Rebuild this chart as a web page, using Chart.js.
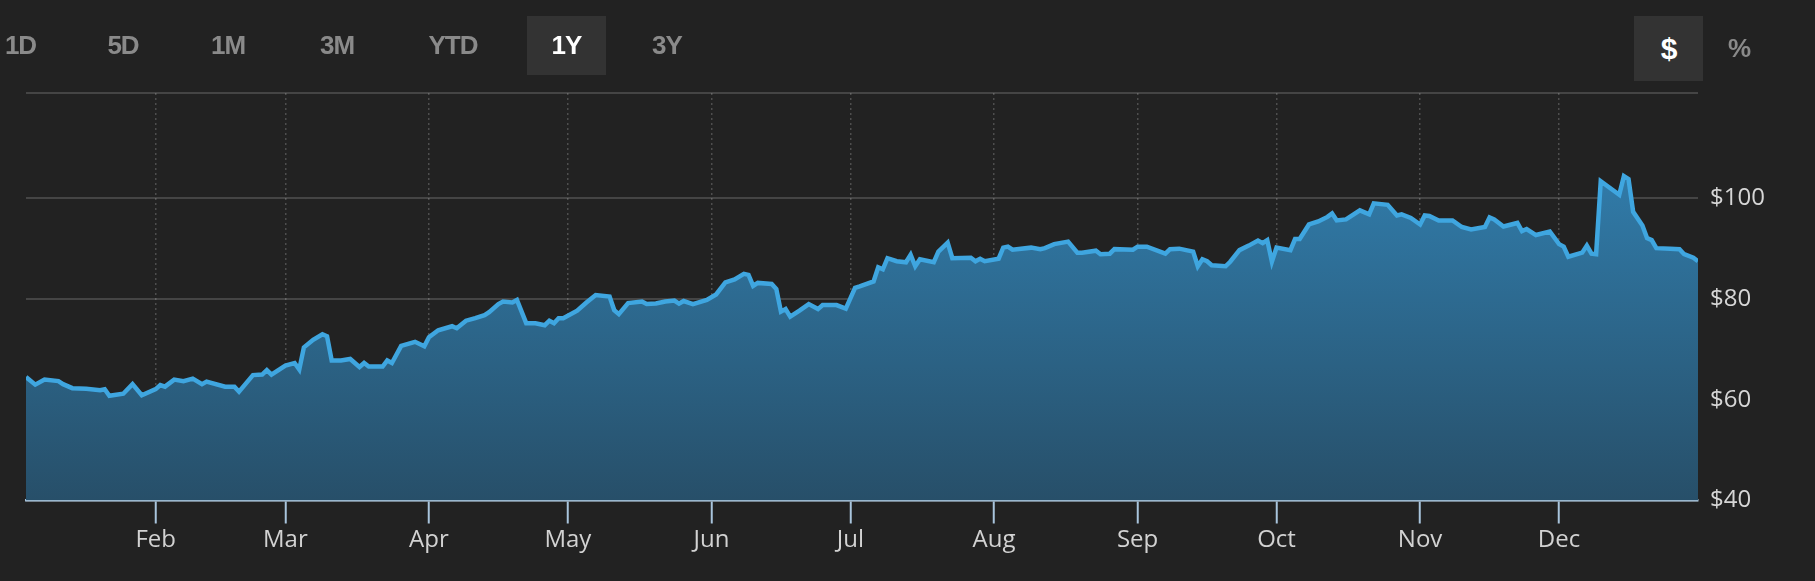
<!DOCTYPE html>
<html>
<head>
<meta charset="utf-8">
<script src="https://cdn.jsdelivr.net/npm/chart.js@4"></script>
<style>
  body { margin: 0; background: #222; overflow: hidden; }
  #wrap { position: relative; width: 1815px; height: 581px; }
  canvas { position: absolute; left: 0; top: 0; }
  .btn {
    position: absolute; top: 16px; height: 59px;
    text-align: center; font: bold 26px/59px "Liberation Sans", Arial, sans-serif;
    color: #8a8a8a; letter-spacing: -1px;
  }
  .btn.on { background: #333; color: #fff; }
  .btn.tall { height: 65px; line-height: 65px; }
</style>
</head>
<body>
<div id="wrap">
  <canvas id="priceChart" width="1815" height="581"></canvas>
  <div class="btn" style="left:0;width:41px">1D</div>
  <div class="btn" style="left:93px;width:60px">5D</div>
  <div class="btn" style="left:198px;width:60px">1M</div>
  <div class="btn" style="left:307px;width:60px">3M</div>
  <div class="btn" style="left:413px;width:80px">YTD</div>
  <div class="btn on" style="left:527px;width:79px">1Y</div>
  <div class="btn" style="left:637px;width:60px">3Y</div>
  <div class="btn on tall" style="left:1634px;width:69px;font-size:30px">$</div>
  <div class="btn tall" style="left:1714px;width:50px">%</div>
</div>
<script>
// day of year (Jan 1 = 0) and closing price
const days = [
  3, 5, 7, 10, 11, 13, 16, 19, 20, 21, 24, 26, 28, 31, 32, 33, 35, 37, 39, 41,
  42, 46, 48, 49, 52, 54, 55, 56, 59, 61, 62, 63, 65, 67, 68, 69, 71, 73, 75, 76,
  77, 80, 81, 82, 84, 87, 89, 90, 92, 95, 96, 98, 100, 102, 103, 105, 106, 108, 109, 111,
  113, 115, 116, 117, 118, 119, 122, 124, 126, 129, 130, 131, 133, 136, 137, 139, 141, 143, 144, 145,
  147, 150, 152, 154, 156, 158, 159, 160, 161, 164, 165, 166, 167, 168, 170, 172, 174, 175, 178, 180,
  182, 183, 186, 187, 188, 189, 191, 193, 194, 195, 196, 199, 200, 202, 203, 207, 208, 209, 210, 213,
  214, 215, 216, 220, 222, 223, 225, 228, 230, 231, 234, 235, 237, 238, 242, 243, 245, 249, 250, 252,
  255, 256, 257, 258, 259, 262, 263, 265, 267, 269, 270, 271, 272, 273, 276, 277, 278, 280, 282, 284,
  285, 286, 288, 291, 293, 294, 297, 299, 300, 302, 304, 305, 306, 308, 311, 313, 315, 318, 319, 320,
  322, 325, 326, 327, 329, 332, 334, 335, 336, 339, 340, 341, 342, 343, 347, 348, 349, 350, 352, 353,
  354, 355, 358, 360, 361, 363, 364
];
const prices = [
  64.5, 63.0, 64.0, 63.7, 63.1, 62.3, 62.2, 61.9, 62.1, 60.8, 61.2, 63.1, 60.9, 62.1, 62.9, 62.6, 64.0, 63.7, 64.2, 63.1,
  63.6, 62.6, 62.6, 61.6, 64.9, 65.0, 65.9, 65.0, 66.8, 67.3, 66.0, 70.4, 71.9, 73.0, 72.6, 67.8, 67.8, 68.1, 66.5, 67.3,
  66.6, 66.6, 67.8, 67.3, 70.7, 71.5, 70.6, 72.4, 73.8, 74.6, 74.2, 75.7, 76.2, 76.8, 77.4, 79.0, 79.5, 79.3, 79.8, 75.2,
  75.2, 74.8, 75.7, 75.2, 76.2, 76.2, 77.7, 79.3, 80.8, 80.5, 77.8, 77.0, 79.2, 79.5, 79.0, 79.1, 79.5, 79.7, 79.1, 79.6,
  79.0, 79.8, 80.9, 83.3, 83.9, 85.0, 84.8, 82.6, 83.2, 83.0, 82.0, 77.5, 78.0, 76.5, 77.7, 79.0, 78.0, 78.8, 78.8, 78.1,
  82.2, 82.5, 83.5, 86.3, 85.9, 88.1, 87.5, 87.3, 88.8, 86.5, 87.9, 87.3, 89.4, 91.2, 88.1, 88.2, 87.5, 88.0, 87.5, 88.0,
  90.2, 90.4, 89.8, 90.2, 89.9, 90.1, 90.9, 91.4, 89.2, 89.2, 89.6, 88.9, 89.0, 89.9, 89.8, 90.4, 90.4, 89.0, 89.9, 90.0,
  89.4, 86.5, 87.9, 87.5, 86.7, 86.5, 87.4, 89.7, 90.6, 91.6, 91.1, 91.7, 87.4, 90.2, 89.7, 91.9, 91.9, 94.8, 95.4, 96.3,
  97.0, 95.6, 95.8, 97.6, 96.8, 99.0, 98.7, 96.6, 96.8, 96.1, 94.8, 96.6, 96.5, 95.6, 95.6, 94.3, 93.8, 94.3, 96.2, 95.8,
  94.4, 95.1, 93.5, 93.9, 92.7, 93.4, 90.9, 90.4, 88.4, 89.2, 90.6, 89.0, 88.9, 103.4, 100.7, 104.4, 103.8, 97.3, 94.6, 92.1,
  91.7, 90.1, 90.0, 89.9, 88.9, 88.2, 87.5
];

const monthStarts = [31, 59, 90, 120, 151, 181, 212, 243, 273, 304, 334];
const monthLabels = ["Feb", "Mar", "Apr", "May", "Jun", "Jul", "Aug", "Sep", "Oct", "Nov", "Dec"];
const yTickValues = [40, 60, 80, 100];
const yMax = 120.9;

const points = days.map((d, i) => ({ x: d, y: prices[i] }));

const ctx = document.getElementById("priceChart");

new Chart(ctx, {
    type: "line",
    data: {
        datasets: [{
            data: points,
            borderColor: "#3fa6e0",
            borderWidth: 4.5,
            pointRadius: 0,
            tension: 0,
            fill: "start",
            backgroundColor: (c) => {
                const area = c.chart.chartArea;
                if (!area) return "#2c6a92";
                const g = c.chart.ctx.createLinearGradient(0, area.top, 0, area.bottom);
                g.addColorStop(0, "#3386b9");
                g.addColorStop(1, "#274f69");
                return g;
            }
        }]
    },
    options: {
        responsive: false,
        animation: false,
        layout: { padding: { top: 93, left: 26, right: 0, bottom: 0 } },
        plugins: {
            legend: { display: false },
            tooltip: { enabled: false }
        },
        scales: {
            x: {
                type: "linear",
                min: 3,
                max: 364,
                z: 1,
                afterBuildTicks: (scale) => {
                    scale.ticks = monthStarts.map(v => ({ value: v }));
                },
                afterFit: (scale) => { scale.height = 80.5; },
                ticks: {
                    autoSkip: false,
                    maxRotation: 0,
                    padding: 2,
                    color: "#d2d2d2",
                    font: { family: "Open Sans", size: 24 },
                    callback: (v) => monthLabels[monthStarts.indexOf(v)]
                },
                grid: {
                    color: "rgba(255,255,255,0.2)",
                    lineWidth: 1.5,
                    tickColor: "#a9c5dd",
                    tickLength: 23,
                    tickWidth: 2,
                    tickBorderDash: []
                },
                border: { display: true, color: "#a9c6de", width: 2.5, dash: [2, 3] }
            },
            y: {
                position: "right",
                min: 40,
                max: yMax,
                z: 1,
                afterBuildTicks: (scale) => {
                    scale.ticks = yTickValues.concat([yMax]).map(v => ({ value: v }));
                },
                afterFit: (scale) => { scale.width = 117; },
                ticks: {
                    padding: 12,
                    color: "#d6d6d6",
                    font: { family: "Open Sans", size: 24 },
                    callback: (v) => v === yMax ? "" : "$" + v
                },
                grid: {
                    color: "rgba(255,255,255,0.16)",
                    lineWidth: 2,
                    drawTicks: false
                },
                border: { display: false }
            }
        }
    }
});
</script>
</body>
</html>
